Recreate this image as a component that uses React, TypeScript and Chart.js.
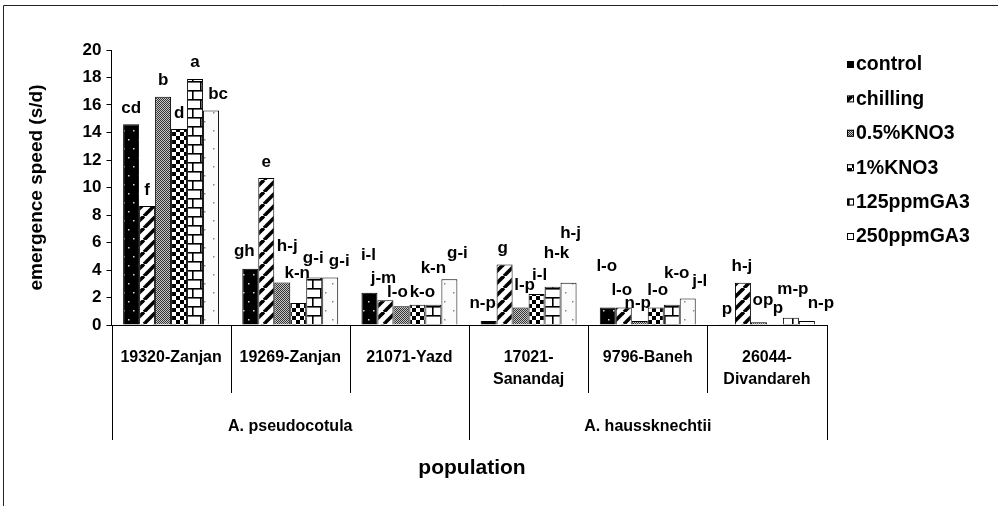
import React, { useEffect, useRef } from "react";
import { Chart, registerables } from "chart.js";

Chart.register(...registerables);

// ---------- data ----------
const categories: string[][] = [
  ["19320-Zanjan"],
  ["19269-Zanjan"],
  ["21071-Yazd"],
  ["17021-", "Sanandaj"],
  ["9796-Baneh"],
  ["26044-", "Divandareh"],
];
const species = ["A. pseudocotula", "A. haussknechtii"];
const seriesNames = ["control", "chilling", "0.5%KNO3", "1%KNO3", "125ppmGA3", "250ppmGA3"];

const control = [14.6, 4.1, 2.35, 0.3, 1.27, 0.05];
const chilling = [8.65, 10.7, 1.8, 4.4, 1.27, 3.08];
const kno3Half = [16.6, 3.1, 1.37, 1.27, 0.3, 0.2];
const kno3One = [14.25, 1.6, 1.48, 2.25, 1.27, 0.05];
const ga3_125 = [17.9, 3.45, 1.48, 2.78, 1.48, 0.52];
const ga3_250 = [15.6, 3.45, 3.33, 3.08, 1.93, 0.3];

const yTicks = [0, 2, 4, 6, 8, 10, 12, 14, 16, 18, 20];

// significance letters (per series, per category)
const letters: string[][] = [
  ["cd", "gh", "i-l", "n-p", "l-o", "p"],
  ["f", "e", "j-m", "g", "l-o", "h-j"],
  ["b", "h-j", "l-o", "l-p", "n-p", "op"],
  ["d", "k-n", "k-o", "i-l", "l-o", "p"],
  ["a", "g-i", "k-n", "h-k", "k-o", "m-p"],
  ["bc", "g-i", "g-i", "h-j", "j-l", "n-p"],
];
// value (axis units) at which each letter's centre sits
const letterAt: number[][] = [
  [15.76, 5.33, 5.1, 1.6, 4.25, 1.15],
  [9.8, 11.8, 3.4, 5.6, 2.55, 4.3],
  [17.8, 5.7, 2.35, 2.9, 1.6, 1.8],
  [15.4, 3.76, 2.4, 3.6, 2.55, 1.2],
  [19.1, 4.85, 4.1, 5.2, 3.75, 2.6],
  [16.8, 4.6, 5.2, 6.7, 3.15, 1.6],
];
// horizontal nudge of each letter (px)
const letterShift: number[][] = [
  [0, -6, -1, -6, -1, 0],
  [0, 0, -2, -2, -2, -1],
  [0, 5, -4, 4, -2, 4],
  [0, -1, 5, 3, 2, 3],
  [0, -1, 0, 4, 5, 2],
  [7, 9, 8, 2, 12, 14],
];

const FONT = "'Liberation Sans', Arial, sans-serif";

function makePattern(kind: number): CanvasPattern | string {
  const c = document.createElement("canvas");
  const g = c.getContext("2d")!;
  if (kind === 0) {
    c.width = 10; c.height = 18;
    g.fillStyle = "#000"; g.fillRect(0, 0, 10, 18);
    g.fillStyle = "#d8d8d8";
    g.fillRect(3, 4, 1.5, 1.5);
    g.fillRect(8, 13, 1.5, 1.5);
  } else if (kind === 1) {
    c.width = 12; c.height = 12;
    g.fillStyle = "#fff"; g.fillRect(0, 0, 12, 12);
    g.strokeStyle = "#000"; g.lineWidth = 3.6;
    for (const o of [-12, 0, 12]) {
      g.beginPath(); g.moveTo(o, 12); g.lineTo(o + 12, 0); g.stroke();
    }
  } else if (kind === 2) {
    c.width = 2; c.height = 2;
    g.fillStyle = "#c8c8c8"; g.fillRect(0, 0, 2, 2);
    g.fillStyle = "#333"; g.fillRect(0, 0, 1, 1); g.fillRect(1, 1, 1, 1);
  } else if (kind === 3) {
    c.width = 8; c.height = 8;
    g.fillStyle = "#fff"; g.fillRect(0, 0, 8, 8);
    g.fillStyle = "#000"; g.fillRect(0, 0, 4, 4); g.fillRect(4, 4, 4, 4);
  } else if (kind === 4) {
    c.width = 16; c.height = 18;
    g.fillStyle = "#fff"; g.fillRect(0, 0, 16, 18);
    g.fillStyle = "#000";
    g.fillRect(0, 0, 16, 1.6); g.fillRect(0, 9, 16, 1.6);
    g.fillRect(0, 0, 1.6, 9); g.fillRect(8, 9, 1.6, 9);
  } else {
    c.width = 16; c.height = 18;
    g.fillStyle = "#fbfbfb"; g.fillRect(0, 0, 16, 18);
    g.fillStyle = "#888";
    g.fillRect(5, 4, 1.5, 1.5); g.fillRect(12, 13, 1.5, 1.5);
  }
  return g.createPattern(c, "repeat")!;
}

export default function App() {
  const ref = useRef<HTMLCanvasElement>(null);

  useEffect(() => {
    document.body.style.margin = "0";
    const canvas = ref.current!;
    const series = [control, chilling, kno3Half, kno3One, ga3_125, ga3_250];
    const patterns = series.map((_, i) => makePattern(i));

    const overlay = {
      id: "overlay",
      afterDraw(chart: any) {
        const ctx = chart.ctx as CanvasRenderingContext2D;
        const area = chart.chartArea;
        const xs = chart.scales.x;
        const ys = chart.scales.y;
        ctx.save();
        // frame
        ctx.strokeStyle = "#222";
        ctx.lineWidth = 1;
        ctx.beginPath();
        ctx.moveTo(3.5, 506); ctx.lineTo(3.5, 5.5); ctx.lineTo(998, 5.5);
        ctx.stroke();

        // category boundaries
        const n = categories.length;
        const bounds: number[] = [];
        for (let i = 0; i <= n; i++) {
          if (i === 0) bounds.push(area.left);
          else if (i === n) bounds.push(area.right);
          else bounds.push((xs.getPixelForValue(i - 1) + xs.getPixelForValue(i)) / 2);
        }
        ctx.strokeStyle = "#000";
        ctx.lineWidth = 1;
        bounds.forEach((b, i) => {
          const long = i % 3 === 0;
          const x = Math.round(b) + 0.5;
          ctx.beginPath();
          ctx.moveTo(x, area.bottom);
          ctx.lineTo(x, area.bottom + (long ? 115 : 68));
          ctx.stroke();
        });

        // category labels
        ctx.fillStyle = "#000";
        ctx.textAlign = "center";
        ctx.textBaseline = "middle";
        ctx.font = `bold 16px ${FONT}`;
        categories.forEach((lines, i) => {
          const x = xs.getPixelForValue(i);
          lines.forEach((t, k) => ctx.fillText(t, x, area.bottom + 33 + k * 22));
        });
        // species labels
        species.forEach((s, k) => {
          const x = (bounds[k * 3] + bounds[k * 3 + 3]) / 2;
          ctx.fillText(s, x, area.bottom + 102);
        });
        // x title
        ctx.font = `bold 21px ${FONT}`;
        ctx.fillText("population", (area.left + area.right) / 2 + 3, area.bottom + 143);
        // y title
        ctx.save();
        ctx.translate(37, (area.top + area.bottom) / 2);
        ctx.rotate(-Math.PI / 2);
        ctx.font = `bold 19px ${FONT}`;
        ctx.fillText("emergence speed (s/d)", 0, 0);
        ctx.restore();

        // bar letters
        ctx.font = `bold 17px ${FONT}`;
        series.forEach((_, d) => {
          const meta = chart.getDatasetMeta(d);
          meta.data.forEach((bar: any, i: number) => {
            const y = ys.getPixelForValue(letterAt[d][i]);
            ctx.fillText(letters[d][i], bar.x + letterShift[d][i], y);
          });
        });

        // legend
        ctx.textAlign = "left";
        ctx.font = `bold 19.5px ${FONT}`;
        seriesNames.forEach((name, d) => {
          const cy = 65 + d * 34.4;
          ctx.fillStyle = patterns[d] as any;
          ctx.fillRect(847, cy - 4, 7, 7);
          ctx.strokeStyle = "#000";
          ctx.strokeRect(847.5, cy - 3.5, 6, 6);
          ctx.fillStyle = "#000";
          ctx.fillText(name, 856, cy);
        });
        ctx.restore();
      },
    };

    const chart = new Chart(canvas, {
      type: "bar",
      data: {
        labels: categories.map((c) => c.join(" ")),
        datasets: series.map((vals, i) => ({
          label: seriesNames[i],
          data: vals,
          backgroundColor: patterns[i] as any,
          borderColor: "#000",
          borderWidth: 1,
          categoryPercentage: 0.805,
          barPercentage: 1.0,
        })),
      },
      options: {
        responsive: false,
        animation: false,
        devicePixelRatio: 1,
        layout: { padding: { top: 50, right: 171.5, left: 0, bottom: 0 } },
        plugins: { legend: { display: false }, tooltip: { enabled: false } },
        scales: {
          x: {
            offset: true,
            grid: { display: false },
            ticks: { display: false },
            border: { display: true, color: "#000", width: 1 },
            afterFit: (s: any) => { s.height = 181; },
          },
          y: {
            min: 0,
            max: 20,
            afterBuildTicks: (s: any) => { s.ticks = yTicks.map((v) => ({ value: v })); },
            ticks: {
              color: "#000",
              padding: 5,
              font: { family: FONT, size: 17, weight: "bold" },
            },
            grid: { drawOnChartArea: false, drawTicks: true, tickLength: 5, color: "#000" },
            border: { display: true, color: "#000", width: 1 },
            afterFit: (s: any) => { s.width = 111.5; },
          },
        },
      },
      plugins: [overlay],
    });
    return () => chart.destroy();
  }, []);

  return (
    <div style={{ position: "absolute", left: 0, top: 0, width: 998, height: 506, background: "#fff" }}>
      <canvas ref={ref} width={998} height={506} style={{ width: 998, height: 506 }} />
    </div>
  );
}
